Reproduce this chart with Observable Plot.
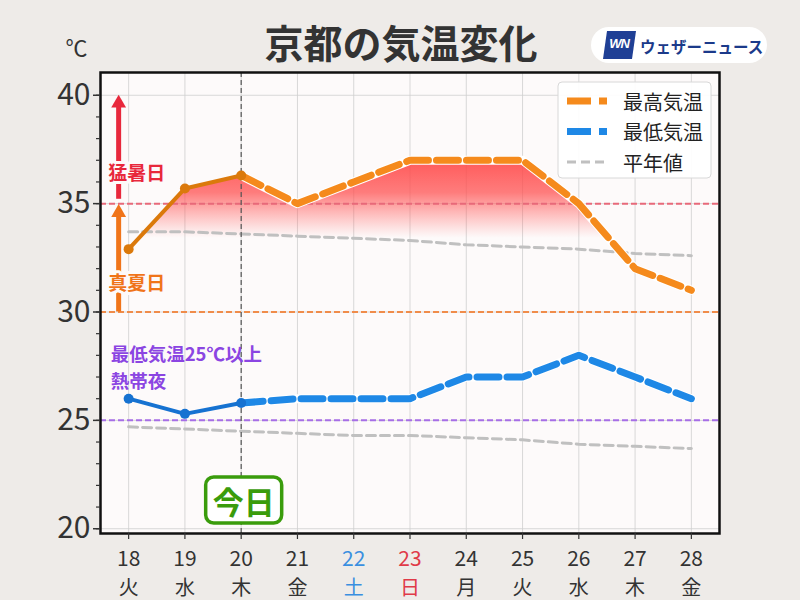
<!DOCTYPE html>
<html><head><meta charset="utf-8">
<script src="https://cdn.jsdelivr.net/npm/d3@7"></script>
<script src="https://cdn.jsdelivr.net/npm/@observablehq/plot@0.6"></script>
<style>
body{margin:0;background:#eeebe8;}
#chart{width:800px;height:600px;}
</style>
</head><body><div id="chart"></div>
<script>
const title = "京都の気温変化";
const unitLabel = "℃";
const days = [18, 19, 20, 21, 22, 23, 24, 25, 26, 27, 28];
const weekdays = ["火", "水", "木", "金", "土", "日", "月", "火", "水", "木", "金"];
const maxTemp = [32.9, 35.7, 36.3, 35.0, 36.0, 37.0, 37.0, 37.0, 35.0, 32.0, 31.0];
const minTemp = [26.0, 25.3, 25.8, 26.0, 26.0, 26.0, 27.0, 27.0, 28.0, 27.0, 26.0];
const normalMax = [33.7, 33.7, 33.6, 33.5, 33.4, 33.3, 33.1, 33.0, 32.9, 32.7, 32.6];
const normalMin = [24.7, 24.6, 24.5, 24.4, 24.3, 24.3, 24.2, 24.1, 23.9, 23.8, 23.7];
const todayDay = 20;
const todayLabel = "今日";
const yTicks = [20, 25, 30, 35, 40];
const yMinorTicks = d3.range(20, 41);
const seriesLabels = ["最高気温", "最低気温", "平年値"];
const hotDay = {label: "猛暑日", from: 35, to: 40};
const summerDay = {label: "真夏日", from: 30, to: 35};
const tropicalLine1 = "最低気温25℃以上";
const tropicalLine2 = "熱帯夜";
const tropicalValue = 25;
const brand = "ウェザーニュース";

const rows = days.map((d, i) => ({day: d, wd: weekdays[i], max: maxTemp[i], min: minTemp[i], nmax: normalMax[i], nmin: normalMin[i]}));
const past = rows.filter(r => r.day <= todayDay);
const future = rows.filter(r => r.day >= todayDay);

const C = {
  maxPast: "#db790b", maxFut: "#f58a1c",
  minPast: "#1672d1", minFut: "#1e88e6",
  normal: "#c0c0c0",
  red: "#e8283c", orange: "#f07419", purple: "#8b45e2",
  th35: "#e8697a", th30: "#f08c4a", th25: "#a66ee6",
  plotBg: "#fdfafa", green: "#3a9c0c"
};
const FONT = "'Noto Sans CJK JP', 'Noto Sans', sans-serif";
const ns = "http://www.w3.org/2000/svg";
function el(tag, attrs, text) {
  const e = document.createElementNS(ns, tag);
  for (const k in attrs) e.setAttribute(k, attrs[k]);
  if (text != null) e.textContent = text;
  return e;
}

function defsMark(index, scales) {
  const defs = el("defs", {});
  const g = el("linearGradient", {id: "heatGrad", gradientUnits: "userSpaceOnUse", x1: 0, x2: 0, y1: scales.y(37.2), y2: scales.y(33.4)});
  g.appendChild(el("stop", {offset: "0", "stop-color": "#ff4646", "stop-opacity": 0.92}));
  g.appendChild(el("stop", {offset: "0.45", "stop-color": "#ff5050", "stop-opacity": 0.74}));
  g.appendChild(el("stop", {offset: "1", "stop-color": "#ff6a6a", "stop-opacity": 0}));
  defs.appendChild(g);
  return defs;
}

function legendMark(index, scales, values, dims) {
  const right = dims.width - dims.marginRight;
  const top = dims.marginTop;
  const g = el("g", {"font-family": FONT, "text-anchor": "start"});
  const x0 = right - 161;
  g.appendChild(el("rect", {x: x0, y: top + 10, width: 153, height: 96, rx: 4, fill: "#ffffff", "fill-opacity": 0.92, stroke: "#d8d8d8", "stroke-width": 1}));
  const styles = [
    {stroke: C.maxFut, w: 7, dash: "24,8"},
    {stroke: C.minFut, w: 7, dash: "24,8"},
    {stroke: C.normal, w: 3, dash: "9,5"}
  ];
  seriesLabels.forEach((lab, i) => {
    const cy = top + 29 + i * 30.5;
    g.appendChild(el("line", {x1: x0 + 9, x2: x0 + 49, y1: cy, y2: cy, stroke: styles[i].stroke, "stroke-width": styles[i].w, "stroke-dasharray": styles[i].dash}));
    g.appendChild(el("text", {x: x0 + 65, y: cy, "text-anchor": "start", "dominant-baseline": "central", "font-size": 20, fill: "#222"}, lab));
  });
  return g;
}

function logoMark(index, scales, values, dims) {
  const g = el("g", {"font-family": FONT, "text-anchor": "start"});
  g.appendChild(el("rect", {x: 591, y: 27, width: 176, height: 36, rx: 18, fill: "#ffffff"}));
  g.appendChild(el("polygon", {points: "607,31 636,31 632,59 603,59", fill: "#1f3f95"}));
  g.appendChild(el("text", {x: 619, y: 43, "text-anchor": "middle", "dominant-baseline": "central", "font-size": 13, "font-weight": "bold", "font-style": "italic", fill: "#ffffff", "font-family": "'Liberation Sans', sans-serif", "letter-spacing": "-1"}, "WN"));
  g.appendChild(el("text", {x: 640, y: 45.5, "text-anchor": "start", "dominant-baseline": "central", "font-size": 15.5, "font-weight": "bold", fill: "#1b3a8a"}, brand));
  return g;
}

function todayBoxMark(index, scales, values, dims) {
  const cx = scales.x(todayDay) + 3;
  const bottom = dims.height - dims.marginBottom;
  const g = el("g", {"font-family": FONT});
  g.appendChild(el("rect", {x: cx - 38, y: bottom - 56, width: 76, height: 46, rx: 8, fill: "#ffffff", stroke: C.green, "stroke-width": 3.5}));
  g.appendChild(el("text", {x: cx, y: bottom - 33, "text-anchor": "middle", "dominant-baseline": "central", "font-size": 31, "font-weight": "bold", fill: C.green}, todayLabel));
  return g;
}

const wdColor = d => d.wd === "土" ? "#3a8fe0" : d.wd === "日" ? "#e03a48" : "#333";

const chart = Plot.plot({
  width: 800, height: 600,
  marginLeft: 100, marginRight: 81, marginTop: 72, marginBottom: 67,
  style: {fontFamily: FONT, background: "transparent", color: "#333", overflow: "visible"},
  x: {domain: [17.5, 28.5]},
  y: {domain: [19.78, 41.05]},
  marks: [
    defsMark,
    Plot.frame({fill: C.plotBg}),
    Plot.gridX(days, {stroke: "#cfcfcf", strokeOpacity: 1, strokeWidth: 0.8}),
    Plot.gridY(yTicks, {stroke: "#cfcfcf", strokeOpacity: 1, strokeWidth: 0.8}),
    Plot.areaY(rows, {x: "day", y1: 33.2, y2: "max", fill: "url(#heatGrad)"}),
    Plot.ruleY([35], {stroke: C.th35, strokeWidth: 2, strokeDasharray: "6,3"}),
    Plot.ruleY([30], {stroke: C.th30, strokeWidth: 2, strokeDasharray: "6,3"}),
    Plot.ruleY([tropicalValue], {stroke: C.th25, strokeWidth: 2, strokeDasharray: "6,3"}),
    Plot.lineY(rows, {x: "day", y: "nmax", stroke: C.normal, strokeWidth: 3, strokeDasharray: "9,5"}),
    Plot.lineY(rows, {x: "day", y: "nmin", stroke: C.normal, strokeWidth: 3, strokeDasharray: "9,5"}),
    Plot.ruleX([todayDay], {stroke: "#555", strokeWidth: 1.2, strokeDasharray: "5,3"}),
    // max temp
    Plot.lineY(future, {x: "day", y: "max", stroke: "#ffffff", strokeWidth: 9}),
    Plot.lineY(future, {x: "day", y: "max", stroke: C.maxFut, strokeWidth: 7, strokeDasharray: "22,8"}),
    Plot.lineY(past, {x: "day", y: "max", stroke: C.maxPast, strokeWidth: 4}),
    Plot.dot(past, {x: "day", y: "max", fill: C.maxPast, r: 5}),
    // min temp
    Plot.lineY(future, {x: "day", y: "min", stroke: "#ffffff", strokeWidth: 9}),
    Plot.lineY(future, {x: "day", y: "min", stroke: C.minFut, strokeWidth: 7, strokeDasharray: "22,8"}),
    Plot.lineY(past, {x: "day", y: "min", stroke: C.minPast, strokeWidth: 4}),
    Plot.dot(past, {x: "day", y: "min", fill: C.minPast, r: 5}),
    // arrows
    Plot.ruleX([hotDay], {x: () => days[0], y1: d => d.from + 0.2, y2: d => d.to - 0.5, dx: -10, stroke: C.red, strokeWidth: 5}),
    Plot.dot([hotDay], {x: () => days[0], y: d => d.to, dx: -10, dy: 8, symbol: "triangle", r: 5.5, fill: C.red}),
    Plot.ruleX([summerDay], {x: () => days[0], y1: d => d.from, y2: d => d.to - 0.5, dx: -10, stroke: C.orange, strokeWidth: 5}),
    Plot.dot([summerDay], {x: () => days[0], y: d => d.to, dx: -10, dy: 9, symbol: "triangle", r: 5.5, fill: C.orange}),
    Plot.text([hotDay], {x: () => days[0], y: d => d.from + 1.35, dx: 8, text: "label", fill: C.red, fontSize: 19, fontWeight: "bold", stroke: C.plotBg, strokeWidth: 6}),
    Plot.text([summerDay], {x: () => days[0], y: d => d.from + 1.3, dx: 8, text: "label", fill: C.orange, fontSize: 19, fontWeight: "bold", stroke: C.plotBg, strokeWidth: 6}),
    Plot.text([tropicalLine1], {x: () => days[0], y: () => tropicalValue + 2.4, dx: -18, dy: -13.5, text: d => d, textAnchor: "start", fill: C.purple, fontSize: 18.5, fontWeight: "bold"}),
    Plot.text([tropicalLine2], {x: () => days[0], y: () => tropicalValue + 2.4, dx: -18, dy: 13.5, text: d => d, textAnchor: "start", fill: C.purple, fontSize: 18.5, fontWeight: "bold"}),
    todayBoxMark,
    Plot.frame({stroke: "#111", strokeWidth: 2.5}),
    // axes
    Plot.axisY(yMinorTicks, {tickSize: 4, tickFormat: () => "", label: null, stroke: "#333", strokeWidth: 1.2}),
    Plot.axisY(yTicks, {tickSize: 7, tickPadding: 3, fontSize: 30, label: null, stroke: "#333", strokeWidth: 1.5, fill: "#333"}),
    Plot.axisX(days, {tickSize: 6, tickFormat: () => "", label: null, stroke: "#333", strokeWidth: 1.2}),
    Plot.text(rows, {x: "day", text: d => String(d.day), frameAnchor: "bottom", lineAnchor: "middle", dy: 26, fontSize: 21, fill: wdColor}),
    Plot.text(rows, {x: "day", text: "wd", frameAnchor: "bottom", lineAnchor: "middle", dy: 55, fontSize: 20, fill: wdColor}),
    // titles
    Plot.text([title], {frameAnchor: "top", lineAnchor: "middle", dx: -9, dy: -27, fontSize: 39, fontWeight: "bold", fill: "#333", text: d => d}),
    Plot.text([unitLabel], {frameAnchor: "top-left", lineAnchor: "middle", textAnchor: "middle", dx: -24, dy: -24, fontSize: 22, fill: "#333", text: d => d}),
    legendMark,
    logoMark
  ]
});
document.getElementById("chart").appendChild(chart);
</script>
</body></html>
